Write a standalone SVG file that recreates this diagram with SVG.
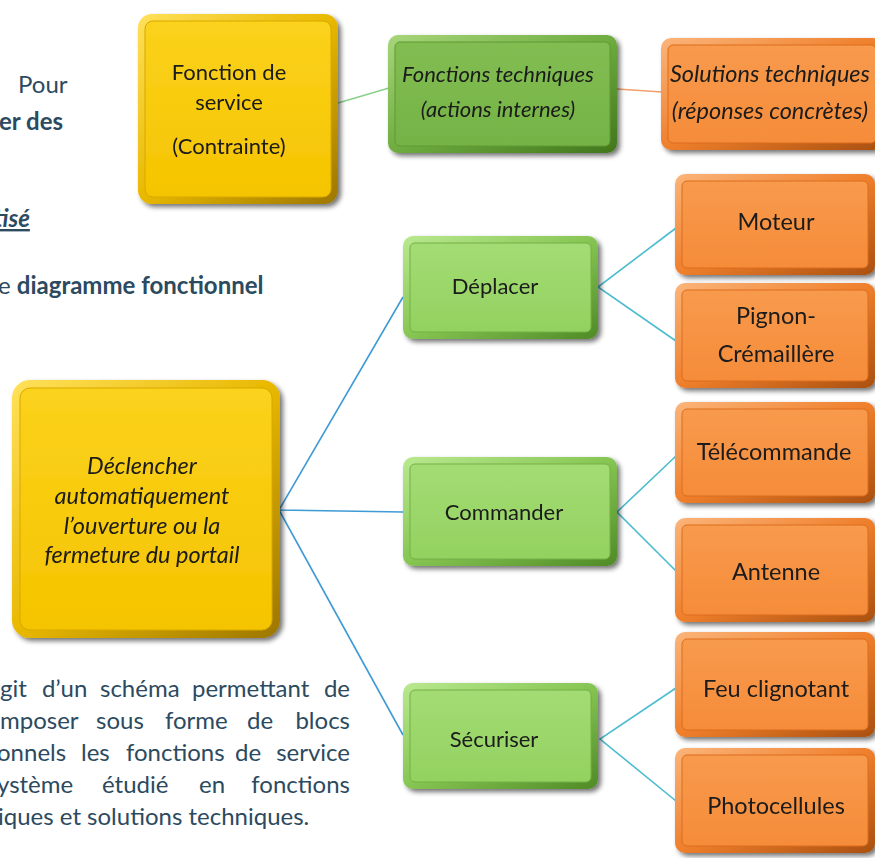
<svg xmlns="http://www.w3.org/2000/svg" width="875" height="858" viewBox="0 0 875 858">
  <defs>
    <!-- bevelled block fills: outer rim gradient + inner face gradient -->
    <linearGradient id="yRim" x1="0" y1="0" x2="1" y2="1">
      <stop offset="0" stop-color="#ffe15a"/>
      <stop offset="0.5" stop-color="#e8b800"/>
      <stop offset="1" stop-color="#9c7600"/>
    </linearGradient>
    <linearGradient id="yFace" x1="0" y1="0" x2="0" y2="1">
      <stop offset="0" stop-color="#fbd21c"/>
      <stop offset="1" stop-color="#f5c400"/>
    </linearGradient>
    <linearGradient id="gRim" x1="0" y1="0" x2="1" y2="1">
      <stop offset="0" stop-color="#b9e98f"/>
      <stop offset="0.5" stop-color="#86c553"/>
      <stop offset="1" stop-color="#4f8a26"/>
    </linearGradient>
    <linearGradient id="gFace" x1="0" y1="0" x2="0" y2="1">
      <stop offset="0" stop-color="#a3dc74"/>
      <stop offset="1" stop-color="#93d160"/>
    </linearGradient>
    <linearGradient id="g2Rim" x1="0" y1="0" x2="1" y2="1">
      <stop offset="0" stop-color="#a7d67a"/>
      <stop offset="0.5" stop-color="#6fac40"/>
      <stop offset="1" stop-color="#41761c"/>
    </linearGradient>
    <linearGradient id="g2Face" x1="0" y1="0" x2="0" y2="1">
      <stop offset="0" stop-color="#82bd52"/>
      <stop offset="1" stop-color="#75b346"/>
    </linearGradient>
    <linearGradient id="oRim" x1="0" y1="0" x2="1" y2="1">
      <stop offset="0" stop-color="#fbb57a"/>
      <stop offset="0.5" stop-color="#ef7f2c"/>
      <stop offset="1" stop-color="#a9500f"/>
    </linearGradient>
    <linearGradient id="oFace" x1="0" y1="0" x2="0" y2="1">
      <stop offset="0" stop-color="#f89a4c"/>
      <stop offset="1" stop-color="#f58c3a"/>
    </linearGradient>
    <filter id="shade" x="-10%" y="-10%" width="125%" height="125%">
      <feGaussianBlur in="SourceAlpha" stdDeviation="2.5"/>
      <feOffset dx="3" dy="3" result="b"/>
      <feComponentTransfer><feFuncA type="linear" slope="0.55"/></feComponentTransfer>
      <feMerge><feMergeNode/><feMergeNode in="SourceGraphic"/></feMerge>
    </filter>
  </defs>
  <style>
    .rimY { fill: url(#yRim); }
    .faceY { fill: url(#yFace); stroke: #d9a800; stroke-width: 1; }
    .rimG { fill: url(#gRim); }
    .faceG { fill: url(#gFace); stroke: #74b046; stroke-width: 1; }
    .rimG2 { fill: url(#g2Rim); }
    .faceG2 { fill: url(#g2Face); stroke: #5e9a33; stroke-width: 1; }
    .rimO { fill: url(#oRim); }
    .faceO { fill: url(#oFace); stroke: #dc6c1c; stroke-width: 1; }
    .lbl { font-family: Lato, "Open Sans", "Liberation Sans", sans-serif; font-size: 22px; fill: #1a1a1a; text-anchor: middle; }
    .big { font-size: 23.5px; }
    .it { font-style: italic; }
    .side { font-family: Lato, "Open Sans", "Liberation Sans", sans-serif; font-size: 24px; fill: #2c4a60; }
    .b { font-weight: bold; }
    .end { text-anchor: end; }
    .link { fill: none; stroke: #4cbcd0; stroke-width: 1.6; }
    .linkL { fill: none; stroke: #3f9bd6; stroke-width: 1.6; }
  </style>

  <rect width="875" height="858" fill="#ffffff"/>

  <!-- surrounding paragraph text (page cut on the left) -->
  <g id="page-text">
    <text class="side" x="18" y="93" font-size="28">Pour</text>
    <text class="side b" x="-1" y="130" font-size="28">er des</text>
    <text class="side b it" x="-6" y="227" text-decoration="underline">tisé</text>
    <text class="side" x="-2" y="294">e <tspan class="b">diagramme fonctionnel</tspan></text>
    <text class="side" y="697"><tspan x="0">git</tspan><tspan x="42">d’un</tspan><tspan x="100">schéma</tspan><tspan x="192">permettant</tspan></text>
    <text class="side end" x="350" y="697">de</text>
    <text class="side" y="729"><tspan x="0">mposer</tspan><tspan x="96">sous</tspan><tspan x="165">forme</tspan><tspan x="247">de</tspan></text>
    <text class="side end" x="350" y="729">blocs</text>
    <text class="side" y="761"><tspan x="-3">onnels</tspan><tspan x="81">les</tspan><tspan x="126">fonctions</tspan><tspan x="235">de</tspan></text>
    <text class="side end" x="350" y="761">service</text>
    <text class="side" y="793"><tspan x="-3">ystème</tspan><tspan x="102">étudié</tspan><tspan x="199">en</tspan></text>
    <text class="side end" x="350" y="793">fonctions</text>
    <text class="side" x="-2" y="825">iques et solutions techniques.</text>
  </g>

  <!-- connectors -->
  <g id="connectors">
    <line x1="338" y1="103" x2="389" y2="88" stroke="#8ccf8c" stroke-width="1.6"/>
    <line x1="617" y1="89" x2="662" y2="92" stroke="#f2a06a" stroke-width="1.6"/>
    <polyline class="linkL" points="403,297 279,510 403,512"/>
    <line class="linkL" x1="279" y1="510" x2="403" y2="735"/>
    <polyline class="link" points="676,228 598,287 676,341"/>
    <polyline class="link" points="676,456 617,512 676,571"/>
    <polyline class="link" points="676,688 600,739 676,801"/>
  </g>

  <!-- legend blocks -->
  <g id="n-fonction-service" filter="url(#shade)">
    <rect class="rimY" x="138" y="14" width="200" height="190" rx="14"/>
    <rect class="faceY" x="145" y="21" width="186" height="176" rx="8"/>
    <text class="lbl" x="229" y="80">Fonction de</text>
    <text class="lbl" x="229" y="110">service</text>
    <text class="lbl" x="229" y="154">(Contrainte)</text>
  </g>
  <g id="n-fonctions-techniques" filter="url(#shade)">
    <rect class="rimG2" x="388" y="35" width="229" height="118" rx="10"/>
    <rect class="faceG2" x="395" y="42" width="215" height="104" rx="5"/>
    <text class="lbl it" x="498" y="82">Fonctions techniques</text>
    <text class="lbl it" x="498" y="117">(actions internes)</text>
  </g>
  <g id="n-solutions-techniques" filter="url(#shade)">
    <rect class="rimO" x="661" y="38" width="222" height="112" rx="10"/>
    <rect class="faceO" x="668" y="45" width="208" height="98" rx="5"/>
    <text class="lbl big it" x="770" y="82">Solutions techniques</text>
    <text class="lbl big it" x="770" y="119">(réponses concrètes)</text>
  </g>

  <!-- service function -->
  <g id="n-declencher" filter="url(#shade)">
    <rect class="rimY" x="12" y="380" width="268" height="258" rx="18"/>
    <rect class="faceY" x="20" y="388" width="252" height="242" rx="10"/>
    <text class="lbl big it" x="142" y="474">Déclencher</text>
    <text class="lbl big it" x="142" y="504">automatiquement</text>
    <text class="lbl big it" x="142" y="534">l’ouverture ou la</text>
    <text class="lbl big it" x="142" y="563">fermeture du portail</text>
  </g>

  <!-- technical functions -->
  <g id="n-deplacer" filter="url(#shade)">
    <rect class="rimG" x="403" y="236" width="195" height="103" rx="10"/>
    <rect class="faceG" x="410" y="243" width="181" height="89" rx="5"/>
    <text class="lbl" x="495" y="294">Déplacer</text>
  </g>
  <g id="n-commander" filter="url(#shade)">
    <rect class="rimG" x="403" y="457" width="214" height="109" rx="10"/>
    <rect class="faceG" x="410" y="464" width="200" height="95" rx="5"/>
    <text class="lbl" x="504" y="520">Commander</text>
  </g>
  <g id="n-securiser" filter="url(#shade)">
    <rect class="rimG" x="403" y="683" width="195" height="106" rx="10"/>
    <rect class="faceG" x="410" y="690" width="181" height="92" rx="5"/>
    <text class="lbl" x="494" y="747">Sécuriser</text>
  </g>

  <!-- technical solutions -->
  <g id="n-moteur" filter="url(#shade)">
    <rect class="rimO" x="675" y="174" width="200" height="101" rx="10"/>
    <rect class="faceO" x="682" y="181" width="186" height="87" rx="5"/>
    <text class="lbl big" x="776" y="230">Moteur</text>
  </g>
  <g id="n-pignon" filter="url(#shade)">
    <rect class="rimO" x="675" y="283" width="200" height="105" rx="10"/>
    <rect class="faceO" x="682" y="290" width="186" height="91" rx="5"/>
    <text class="lbl big" x="776" y="324">Pignon-</text>
    <text class="lbl big" x="776" y="362">Crémaillère</text>
  </g>
  <g id="n-telecommande" filter="url(#shade)">
    <rect class="rimO" x="675" y="402" width="200" height="101" rx="10"/>
    <rect class="faceO" x="682" y="409" width="186" height="87" rx="5"/>
    <text class="lbl big" x="774" y="460">Télécommande</text>
  </g>
  <g id="n-antenne" filter="url(#shade)">
    <rect class="rimO" x="675" y="518" width="200" height="104" rx="10"/>
    <rect class="faceO" x="682" y="525" width="186" height="90" rx="5"/>
    <text class="lbl big" x="776" y="580">Antenne</text>
  </g>
  <g id="n-feu" filter="url(#shade)">
    <rect class="rimO" x="675" y="632" width="200" height="105" rx="10"/>
    <rect class="faceO" x="682" y="639" width="186" height="91" rx="5"/>
    <text class="lbl big" x="776" y="697">Feu clignotant</text>
  </g>
  <g id="n-photocellules" filter="url(#shade)">
    <rect class="rimO" x="675" y="748" width="200" height="105" rx="10"/>
    <rect class="faceO" x="682" y="755" width="186" height="91" rx="5"/>
    <text class="lbl big" x="776" y="814">Photocellules</text>
  </g>
</svg>
